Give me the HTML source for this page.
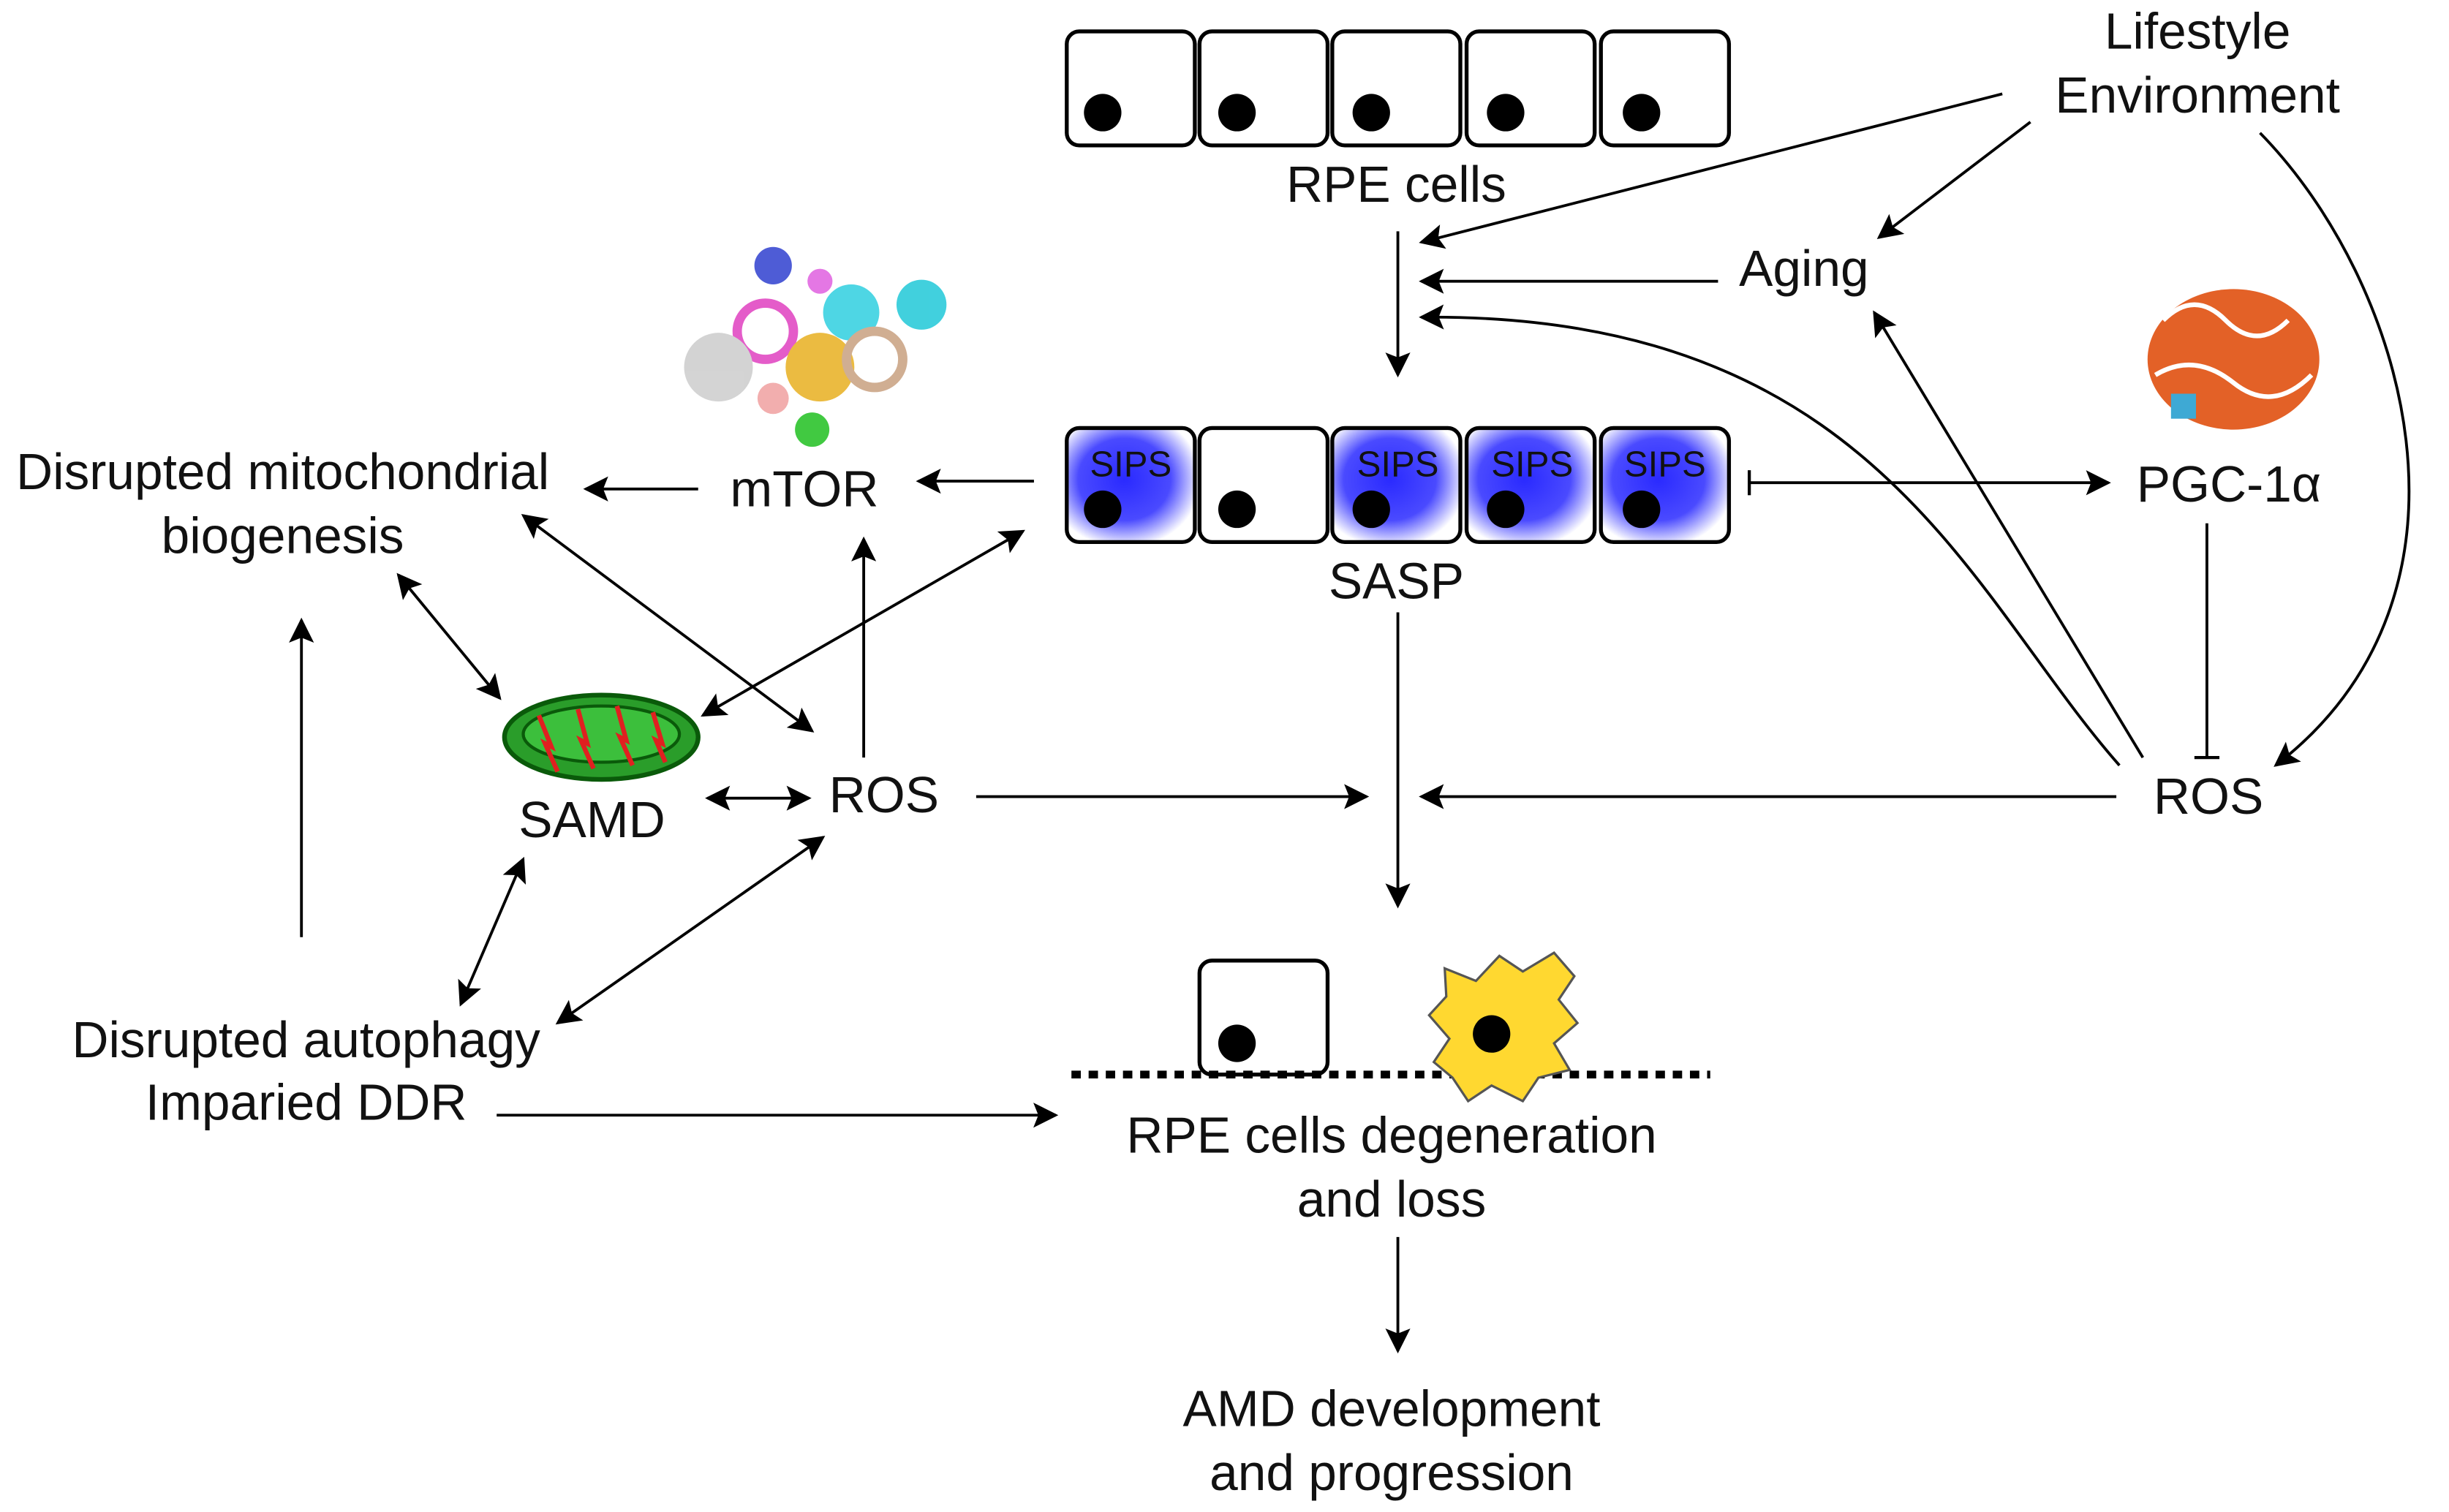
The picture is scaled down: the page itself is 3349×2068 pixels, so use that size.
<!DOCTYPE html>
<html><head><meta charset="utf-8"><style>html,body{margin:0;padding:0;background:#fff}svg{display:block}</style></head>
<body>
<svg width="3349" height="2068" viewBox="0 0 1568 968" xmlns="http://www.w3.org/2000/svg" font-family="Liberation Sans, sans-serif" font-size="32.5" text-anchor="middle">
<defs>
<marker id="ab" viewBox="0 0 10 10" refX="9" refY="5" markerWidth="22" markerHeight="16" orient="auto-start-reverse" markerUnits="userSpaceOnUse"><path d="M0,0 L10,5 L0,10 L2,5z" fill="#000"/></marker>
<radialGradient id="g" cx="0.45" cy="0.45" r="0.6"><stop offset="0" stop-color="#2a2aff"/><stop offset="0.6" stop-color="#4a4aff"/><stop offset="1" stop-color="#fff"/></radialGradient>
</defs>
<g stroke="#000" stroke-width="2.5" fill="#fff">
<rect x="683" y="20" width="82" height="73" rx="8"/><rect x="768" y="20" width="82" height="73" rx="8"/><rect x="853" y="20" width="82" height="73" rx="8"/><rect x="939" y="20" width="82" height="73" rx="8"/><rect x="1025" y="20" width="82" height="73" rx="8"/>
<rect x="683" y="274" width="82" height="73" rx="8" fill="url(#g)"/><rect x="768" y="274" width="82" height="73" rx="8"/><rect x="853" y="274" width="82" height="73" rx="8" fill="url(#g)"/><rect x="939" y="274" width="82" height="73" rx="8" fill="url(#g)"/><rect x="1025" y="274" width="82" height="73" rx="8" fill="url(#g)"/>
<rect x="768" y="615" width="82" height="73" rx="8"/>
</g>
<g fill="#000">
<circle cx="706" cy="72" r="12"/><circle cx="792" cy="72" r="12"/><circle cx="878" cy="72" r="12"/><circle cx="964" cy="72" r="12"/><circle cx="1051" cy="72" r="12"/>
<circle cx="706" cy="326" r="12"/><circle cx="792" cy="326" r="12"/><circle cx="878" cy="326" r="12"/><circle cx="964" cy="326" r="12"/><circle cx="1051" cy="326" r="12"/>
<circle cx="792" cy="668" r="12"/>
</g>
<g font-size="23" fill="#111"><text x="724" y="305">SIPS</text><text x="895" y="305">SIPS</text><text x="981" y="305">SIPS</text><text x="1066" y="305">SIPS</text></g>
<line x1="686" y1="688" x2="1095" y2="688" stroke="#000" stroke-width="5" stroke-dasharray="6,5"/>
<path d="M925,620 L945,628 L960,612 L975,622 L995,610 L1008,625 L998,640 L1010,655 L995,668 L1005,685 L985,690 L975,705 L955,695 L940,705 L930,690 L918,680 L928,665 L915,650 L926,638z" fill="#ffd830" stroke="#555" stroke-width="1.5"/>
<circle cx="955" cy="662" r="12"/>
<ellipse cx="385" cy="472" rx="62" ry="27" fill="#2a9d2a" stroke="#0a5a0a" stroke-width="3"/>
<ellipse cx="385" cy="470" rx="50" ry="18" fill="#3cbf3c" stroke="#0a5a0a" stroke-width="2"/>
<path d="M345,458 l8,20 l-4,-2 l8,18 M370,454 l6,22 l-4,-2 l8,18 M395,452 l6,22 l-4,-2 l8,18 M418,456 l6,20 l-4,-2 l6,14" stroke="#e02020" stroke-width="3" fill="none"/>
<g opacity="0.85">
<circle cx="495" cy="170" r="12" fill="#3040d0"/><circle cx="545" cy="200" r="18" fill="#30d0e0"/><circle cx="590" cy="195" r="16" fill="#20c8d8"/><circle cx="490" cy="212" r="18" fill="none" stroke="#e040c0" stroke-width="6"/><circle cx="460" cy="235" r="22" fill="#ccc"/><circle cx="525" cy="235" r="22" fill="#e8b020"/><circle cx="560" cy="230" r="18" fill="none" stroke="#c8a080" stroke-width="6"/><circle cx="520" cy="275" r="11" fill="#20c020"/><circle cx="495" cy="255" r="10" fill="#f0a0a0"/><circle cx="525" cy="180" r="8" fill="#e060e0"/>
</g>
<g opacity="0.9"><ellipse cx="1430" cy="230" rx="55" ry="45" fill="#e05010"/><path d="M1385,205 q20,-20 40,0 q20,20 40,0 M1380,240 q25,-15 50,5 q25,20 50,-5" stroke="#fff" stroke-width="3" fill="none"/><rect x="1390" y="252" width="16" height="16" fill="#2aa0d0"/></g>
<g fill="#111">
<text x="1407" y="31">Lifestyle</text><text x="1407" y="72">Environment</text>
<text x="894" y="129">RPE cells</text><text x="1155" y="183">Aging</text>
<text x="894" y="383">SASP</text><text x="1427" y="321">PGC-1α</text><text x="1414" y="521">ROS</text>
<text x="515" y="324">mTOR</text><text x="181" y="313">Disrupted mitochondrial</text><text x="181" y="354">biogenesis</text>
<text x="566" y="520">ROS</text><text x="379" y="536">SAMD</text>
<text x="196" y="677">Disrupted autophagy</text><text x="196" y="717">Imparied DDR</text>
<text x="891" y="738">RPE cells degeneration</text><text x="891" y="779">and loss</text>
<text x="891" y="913">AMD development</text><text x="891" y="954">and progression</text>
</g>
<g stroke="#000" stroke-width="1.8" fill="none" marker-end="url(#ab)">
<line x1="895" y1="148" x2="895" y2="240"/>
<line x1="1282" y1="60" x2="910" y2="155"/>
<line x1="1100" y1="180" x2="910" y2="180"/>
<path d="M1357,490 C1260,380 1200,200 910,203"/>
<line x1="1300" y1="78" x2="1203" y2="152"/>
<line x1="1372" y1="485" x2="1200" y2="200"/>
<path d="M1447,85 C1540,180 1600,380 1457,490"/>
<line x1="1120" y1="309" x2="1350" y2="309"/>
<line x1="1355" y1="510" x2="910" y2="510"/>
<line x1="625" y1="510" x2="875" y2="510"/>
<line x1="895" y1="392" x2="895" y2="580"/>
<line x1="662" y1="308" x2="588" y2="308"/>
<line x1="447" y1="313" x2="375" y2="313"/>
<line x1="553" y1="485" x2="553" y2="345"/>
<line x1="193" y1="600" x2="193" y2="397"/>
<line x1="318" y1="714" x2="676" y2="714"/>
<line x1="895" y1="792" x2="895" y2="865"/>
<g marker-start="url(#ab)">
<line x1="335" y1="330" x2="520" y2="468"/>
<line x1="255" y1="368" x2="320" y2="447"/>
<line x1="655" y1="340" x2="450" y2="458"/>
<line x1="453" y1="511" x2="518" y2="511"/>
<line x1="335" y1="550" x2="295" y2="643"/>
<line x1="527" y1="536" x2="357" y2="655"/>
</g>
</g>
<line x1="1413" y1="335" x2="1413" y2="485" stroke="#000" stroke-width="1.8"/>
<line x1="1405" y1="485" x2="1421" y2="485" stroke="#000" stroke-width="2"/>
<line x1="1120" y1="301" x2="1120" y2="317" stroke="#000" stroke-width="2"/>
</svg>
</body></html>
